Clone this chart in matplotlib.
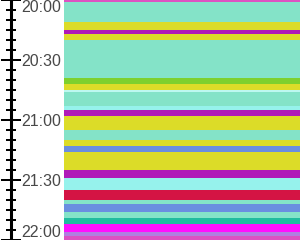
import matplotlib
matplotlib.use('agg')
import matplotlib.pyplot as plt

# segment start times (minutes after 20:00) and colours
starts = [0, 1, 11, 15, 17, 20, 39, 42, 45, 46, 53, 55, 58, 65, 70, 73, 76,
          85, 89, 95, 100, 102, 106, 109, 112, 116, 118]
end = 120
colors = ['#dd52c2', '#84e3c8', '#dcdc28', '#b01ab8', '#dcdc28', '#84e3c8',
          '#7ed02e', '#dcdc28', '#bdf8f0', '#84e3c8', '#96f2ec', '#b01ab8',
          '#dcdc28', '#84e3c8', '#dcdc28', '#6a8ee0', '#dcdc28', '#b01ab8',
          '#96f2ec', '#d41444', '#84e3c8', '#6a8ee0', '#84e3c8', '#20bca0',
          '#ff10ff', '#b080e0', '#dd52c2']

major = [0, 30, 60, 90, 120]
major_labels = ['20:00', '20:30', '21:00', '21:30', '22:00']
minor = list(range(0, 121, 5))

fig = plt.figure(figsize=(3, 2.4), dpi=100)
ax = fig.add_axes([0, 0, 1, 1])

# each segment lasts until the next one starts
durations = [b - a for a, b in zip(starts, starts[1:] + [end])]
ax.barh(starts, 236, left=64, height=durations, align='edge',
        color=colors, linewidth=0)

ax.set_xlim(0, 300)
ax.set_ylim(end, 0)

# the time axis sits near the left edge, labels to its right
for side in ['top', 'bottom', 'left']:
    ax.spines[side].set_visible(False)
ax.spines['right'].set_position(('data', 10.5))
ax.spines['right'].set_linewidth(2.2)
ax.spines['right'].set_zorder(5)
ax.xaxis.set_visible(False)
ax.yaxis.tick_right()
ax.set_yticks(major)
ax.set_yticklabels(major_labels)
ax.set_yticks(minor, minor=True)
ax.tick_params(axis='y', which='major', direction='inout', length=14.4,
               width=1.44, pad=0.5, labelsize=11.5, labelcolor='#484848')
ax.tick_params(axis='y', which='minor', direction='inout', length=7.9,
               width=1.44)
labels = ax.get_yticklabels()
for lbl in labels:
    lbl.set_fontfamily('Liberation Sans')
labels[0].set_va('top')
labels[-1].set_va('bottom')
ax.patch.set_alpha(0)

plt.savefig('out.png', dpi=100)
